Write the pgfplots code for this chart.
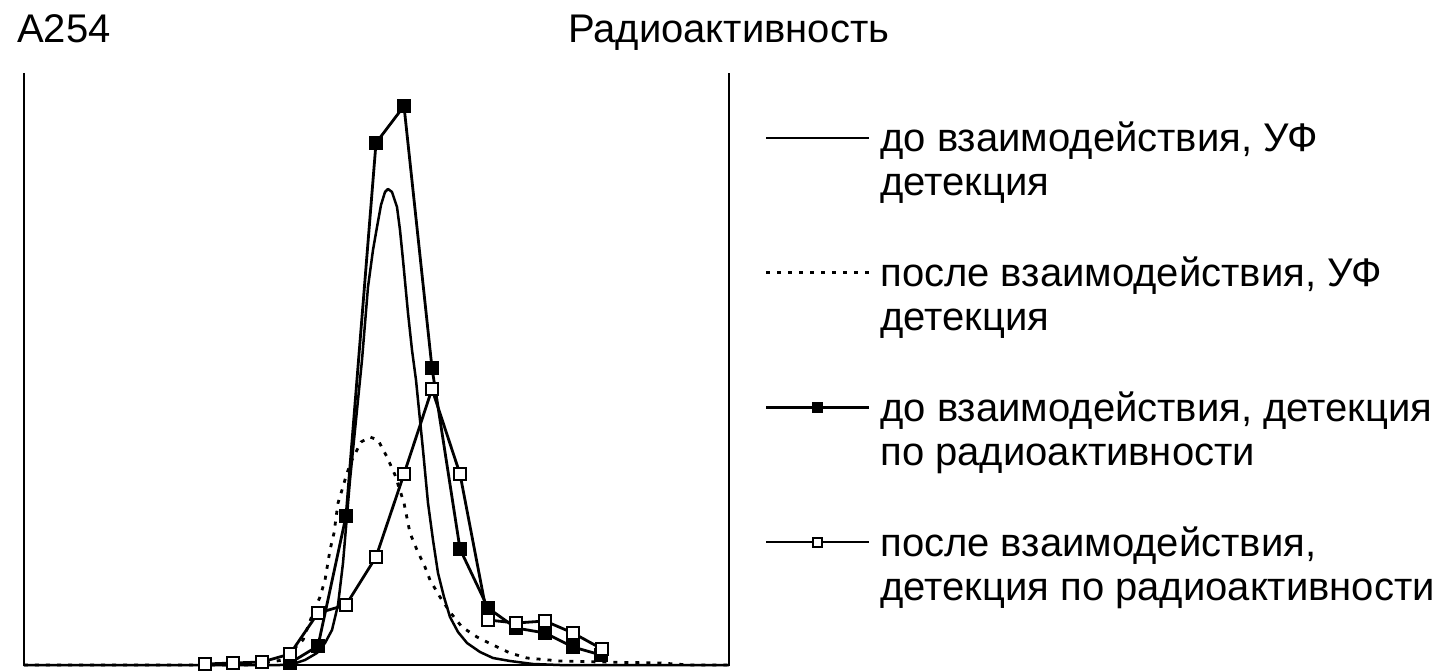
\documentclass[border=0pt]{standalone}
\usepackage{fontspec}
\setmainfont{Liberation Sans}
\usepackage{pgfplots}
\pgfplotsset{compat=1.18}

% units: 1pt = 1 px of the reference; y = 665 - pixel row
\newcommand{\entry}[2]{\begin{tabular}[t]{@{}l@{}}#1\\#2\end{tabular}}
\begin{document}
\fontsize{40}{44}\selectfont
\begin{tikzpicture}
\begin{axis}[
  scale only axis, width=705pt, height=592pt,
  xmin=24, xmax=729, ymin=0, ymax=592,
  axis line style={draw=none}, ticks=none,
  clip=false,
  legend style={at={(1.0511,0.9189)}, anchor=north west, draw=none, fill=none,
    inner sep=0pt, outer sep=0pt, row sep=98pt, column sep=10pt,
    font=\fontsize{40}{44}\selectfont,
    nodes={inner sep=0pt, outer sep=0pt}, cells={anchor=base west}},
  legend image code/.code={\draw[mark repeat=2,mark phase=2,#1,mark size=4.5pt,line width=2.4pt]
    plot coordinates {(0pt,14pt)(51.5pt,14pt)(103pt,14pt)};},
]
% before, UV
\addplot[black, line width=2.5pt, line join=round] coordinates {
(24,0)(280,0)(293,1)(305,5)(317,12)(325,22)(332,35)(338,60)(343,102)(350,185)
(358,265)(362,305)(368,378)(373,415)(377,438)(381,460)(385,473)(388,476)
(392,473)(397,458)(400,435)(403,405)(408,352)(412,315)(416,285)(418,265)
(423,215)(428,162)(433,125)(438,92)(444,68)(450,48)(458,33)(467,22)(480,13)
(493,7)(510,4)(533,1)(560,0)(729,0)};
\addlegendentry{\entry{до взаимодействия, УФ}{детекция}}
% after, UV
\addplot[black, line width=2.8pt, dash pattern=on 4pt off 7pt, line join=round] coordinates {
(24,0)(250,0)(283,5)(303,25)(313,52)(320,68)(325,85)(330,115)(334,132)(338,162)
(342,175)(347,192)(352,205)(361,223)(370,228)(378,225)(387,208)(395,190)
(404,162)(410,132)(417,115)(425,98)(430,85)(440,68)(450,53)(462,38)(477,28)
(493,20)(510,12)(527,7)(560,4)(600,3)(660,2)(690,0)(729,0)};
\addlegendentry{\entry{после взаимодействия, УФ}{детекция}}
% before, radioactivity
\addplot[black, line width=2.8pt, mark=square*, mark size=6pt, mark options={fill=black, solid}] coordinates {
(290,2)(318,19)(346,149)(376,522)(404,559)(432,297)(460,116)(488,57)
(516,37)(545,32)(573,18)(601,10)};
\addlegendentry{\entry{до взаимодействия, детекция}{по радиоактивности}}
% after, radioactivity
\addplot[black, line width=2.8pt, mark=square*, mark size=6pt, mark options={fill=white, solid}] coordinates {
(205,1)(233,2)(262,3)(290,11)(318,52)(346,60)(376,108)(404,191)(432,276)
(460,191)(488,45)(516,42)(545,44)(573,32)(602,16)};
\addlegendentry{\entry{после взаимодействия,}{детекция по радиоактивности}}

\draw[line width=2.8pt] (axis cs:24,592) -- (axis cs:24,0) -- (axis cs:729,0) -- (axis cs:729,592);
\node[anchor=base west, inner sep=0pt] at (axis cs:17,622) {A254};
\node[anchor=base west, inner sep=0pt] at (axis cs:568,622) {Радиоактивность};
\path (axis cs:0,-4) rectangle (axis cs:1440,665);
\end{axis}
\end{tikzpicture}
\end{document}
